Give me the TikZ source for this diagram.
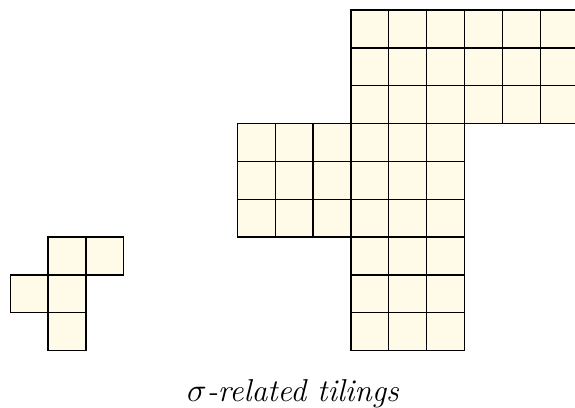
\documentclass[tikz,border=0pt]{standalone}
\definecolor{cream}{RGB}{255,251,232}
\begin{document}
\begin{tikzpicture}[cell/.style={fill=cream,draw=black,line width=1pt}]
\useasboundingbox (-9.27,-10.49) rectangle (5.92,0.264);
\clip (-9.27,-10.49) rectangle (5.92,0.264);
% top block
\foreach \x in {0,...,5} \foreach \y in {0,-1,-2} \draw[cell] (\x,\y) rectangle ++(1,-1);
% middle block
\foreach \x in {-3,...,2} \foreach \y in {-3,-4,-5} \draw[cell] (\x,\y) rectangle ++(1,-1);
% lower block
\foreach \x in {0,1,2} \foreach \y in {-6,-7,-8} \draw[cell] (\x,\y) rectangle ++(1,-1);
% small piece
\foreach \x/\y in {-8/-6,-7/-6,-9/-7,-8/-7,-8/-8} \draw[cell] (\x,\y) rectangle ++(1,-1);
\node (caption) at (-1.53,-10.15) {\fontsize{23.8}{28}\selectfont\itshape $\sigma$-related tilings};
\end{tikzpicture}
\end{document}
